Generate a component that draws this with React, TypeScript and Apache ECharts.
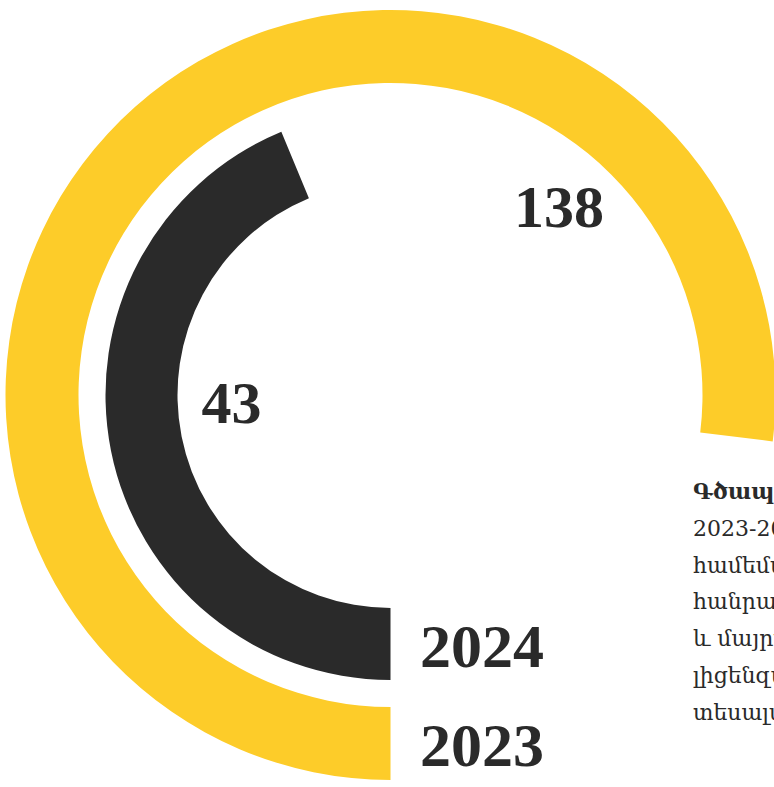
import React, { useEffect, useRef } from "react";
import * as echarts from "echarts";

// Data
const years = ["2023", "2024"];
const values = [138, 43];
const ringColors = ["#FDCC29", "#2A2A2A"];
// each ring has its own angular scale (full circle value)
const ringMax = [179.4, 98.3];
const noteLines = [
  "Գծապատկեր 1.",
  "2023-2024 թթ.",
  "համեմատական",
  "հանրային",
  "և մայրաքաղաքային",
  "լիցենզավորված",
  "տեսալսողական",
];

const TEXT = "#2A2A2A";
const NUM_FONT = "'Liberation Serif', 'Times New Roman', serif";
const NOTE_FONT = "'DejaVu Serif', serif";

export default function App() {
  const ref = useRef<HTMLDivElement>(null);

  useEffect(() => {
    document.body.style.margin = "0";
    if (!ref.current) return;
    const chart = echarts.init(ref.current, null, { renderer: "svg" });
    const cx = 390.5;
    const cy = 395;
    const radii = [
      [312, 385],
      [213, 285],
    ];

    const graphic: any[] = [];
    // value labels
    const valuePos = [
      [559, 207],
      [231.5, 402.5],
    ];
    values.forEach((v, i) => {
      graphic.push({
        type: "text",
        x: valuePos[i][0],
        y: valuePos[i][1],
        style: {
          text: String(v),
          fill: TEXT,
          font: `bold 60px ${NUM_FONT}`,
          textAlign: "center",
          textVerticalAlign: "middle",
        },
      });
    });
    // year labels
    const yearY = [744.5, 646];
    years.forEach((y, i) => {
      graphic.push({
        type: "text",
        x: 420,
        y: yearY[i],
        style: {
          text: y,
          fill: TEXT,
          font: `bold 62px ${NUM_FONT}`,
          textAlign: "left",
          textVerticalAlign: "middle",
        },
      });
    });
    // note text
    noteLines.forEach((line, i) => {
      graphic.push({
        type: "text",
        x: 693,
        y: 499 + i * 36.8 - 7.6,
        style: {
          text: line,
          fill: TEXT,
          font: `${i === 0 ? "bold " : ""}22px ${NOTE_FONT}`,
          textAlign: "left",
          textVerticalAlign: "middle",
        },
      });
    });

    chart.setOption({
      animation: false,
      polar: radii.map((r) => ({ center: [cx, cy], radius: r })),
      angleAxis: ringMax.map((m, i) => ({
        polarIndex: i,
        type: "value",
        min: 0,
        max: m,
        startAngle: 270,
        clockwise: true,
        show: false,
      })),
      radiusAxis: years.map((y, i) => ({
        polarIndex: i,
        type: "category",
        data: [y],
        show: false,
      })),
      series: years.map((y, i) => ({
        type: "bar",
        name: y,
        coordinateSystem: "polar",
        polarIndex: i,
        data: [values[i]],
        barWidth: "100%",
        itemStyle: { color: ringColors[i] },
        silent: true,
      })),
      graphic,
    });
    return () => chart.dispose();
  }, []);

  return <div ref={ref} style={{ width: 774, height: 787 }} />;
}
